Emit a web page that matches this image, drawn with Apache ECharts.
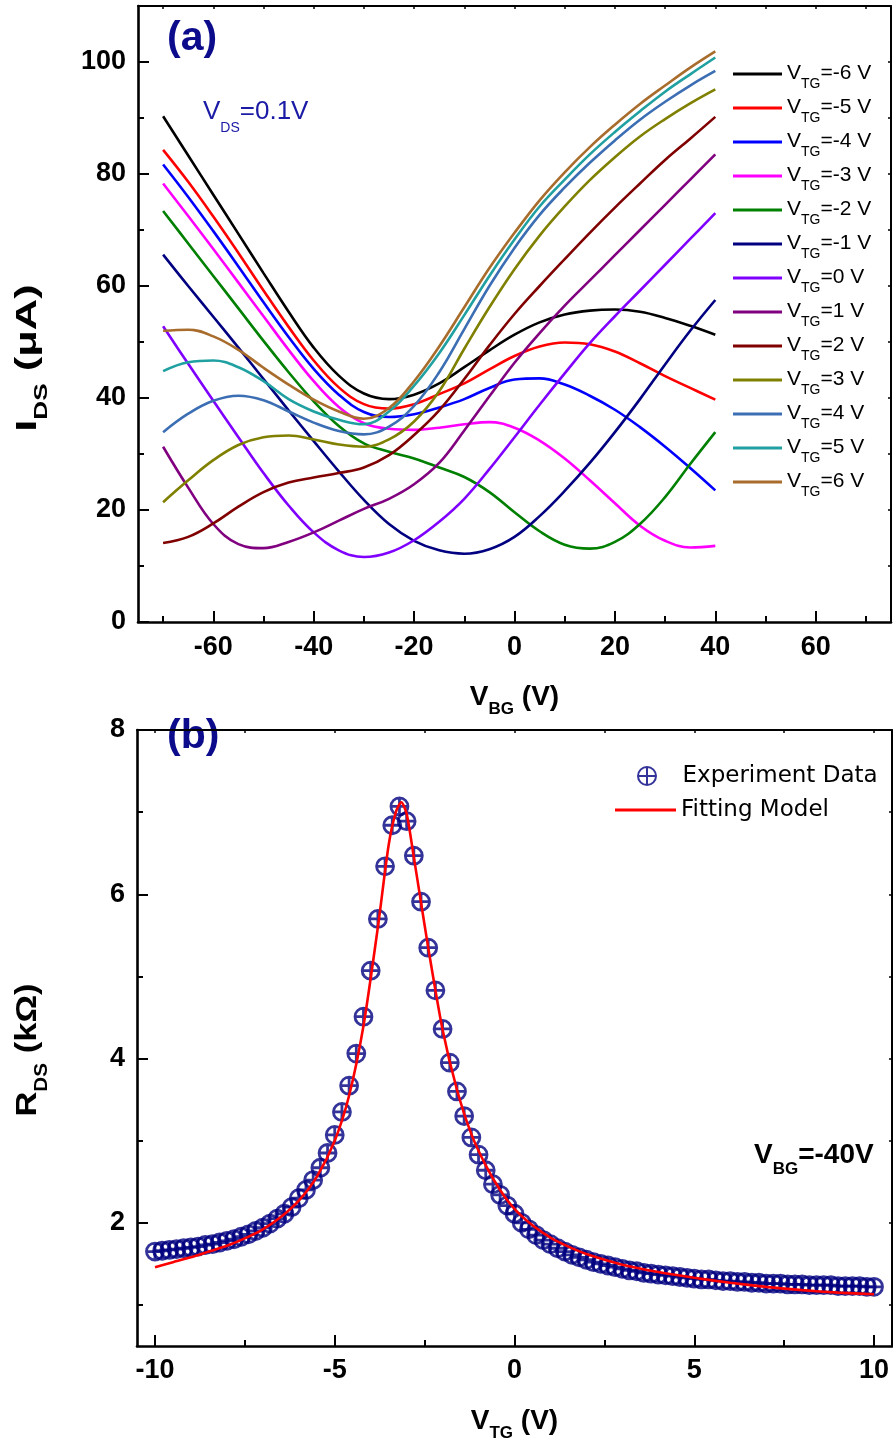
<!DOCTYPE html>
<html><head><meta charset="utf-8">
<script src="https://cdn.jsdelivr.net/npm/echarts@6/dist/echarts.min.js"></script>
<style>html,body{margin:0;padding:0;background:#fff}#c{width:893px;height:1449px}</style>
</head><body><div id="c"></div>
<script>
// ---------- Panel (a) data ----------
const vbg = [-70,-65,-60,-55,-50,-45,-40,-35,-30,-25,-20,-15,-10,-5,0,5,10,15,20,25,30,35,40];
const tgLabels = ['-6','-5','-4','-3','-2','-1','0','1','2','3','4','5','6'];
const tgColors = ['#000000','#ff0000','#0000ff','#ff00ff','#008000','#000080','#8000ff','#800080','#800000','#808000','#3c6eb4','#20a0a0','#a86c2c'];
const idsTGm6 = [90.3,83.3,76.3,69.3,62.3,55.4,49.0,44.0,40.8,39.8,40.6,42.6,45.5,48.5,51.3,53.5,54.9,55.6,55.8,55.4,54.3,52.9,51.3];
const idsTGm5 = [84.3,78.6,72.4,65.9,59.2,52.7,46.7,41.9,38.9,38.1,38.9,40.7,42.6,45.1,47.5,49.2,49.9,49.6,48.3,46.2,43.9,41.8,39.7];
const idsTGm4 = [81.7,75.9,69.8,63.5,57.1,50.9,45.2,40.6,37.5,36.6,37.1,38.3,39.8,41.8,43.3,43.5,42.4,40.4,37.9,34.8,31.3,27.5,23.5];
const idsTGm3 = [78.3,72.5,66.6,60.6,54.6,48.6,43.0,38.4,35.5,34.5,34.3,34.7,35.3,35.7,34.7,32.4,29.2,25.3,21.2,17.2,14.5,13.3,13.6];
const idsTGm2 = [73.4,67.6,61.8,56.0,50.2,44.6,39.4,35.0,31.9,30.4,29.2,27.6,25.9,23.2,19.6,16.2,13.8,13.1,14.3,17.5,22.3,28.2,33.9];
const idsTGm1 = [65.6,60.0,54.5,49.0,43.4,37.8,32.3,26.9,21.8,17.5,14.5,12.8,12.2,13.0,15.2,18.9,23.4,28.4,33.9,39.8,46.0,52.0,57.5];
const idsTG0  = [52.8,46.1,39.5,33.0,26.6,20.8,16.0,12.8,11.6,12.4,14.6,17.9,22.0,27.3,33.0,38.8,44.4,49.8,54.6,59.2,63.8,68.4,73.0];
const idsTG1  = [31.3,24.0,17.5,13.9,13.2,14.3,16.0,18.1,20.2,22.0,24.6,28.4,34.2,40.3,46.3,51.6,56.5,61.0,65.5,70.0,74.5,79.0,83.5];
const idsTG2  = [14.1,15.2,17.6,20.6,23.2,24.9,25.8,26.6,27.6,29.8,33.4,37.8,43.4,49.4,55.0,60.0,64.8,69.5,74.0,78.3,82.5,86.3,90.2];
const idsTG3  = [21.4,25.3,28.9,31.6,33.0,33.3,32.6,31.7,31.3,32.6,35.8,41.2,48.8,56.2,63.0,69.0,74.2,78.9,83.0,86.7,89.8,92.6,95.1];
const idsTG4  = [33.9,37.2,39.5,40.4,39.6,37.6,35.6,34.1,33.5,34.9,38.6,44.6,52.3,60.0,66.8,72.7,77.6,82.0,86.0,89.7,92.9,95.8,98.4];
const idsTG5  = [44.8,46.4,46.7,45.5,43.0,39.8,37.6,36.1,35.3,37.6,42.2,48.0,54.8,61.8,68.3,74.2,79.0,83.5,87.5,91.2,94.7,97.8,100.8];
const idsTG6  = [52.0,52.2,51.0,48.6,45.4,42.4,39.7,37.6,36.3,38.2,43.0,49.2,56.2,63.2,69.5,75.3,80.3,84.8,88.8,92.5,95.8,99.0,101.9];
const idsCurves = [idsTGm6,idsTGm5,idsTGm4,idsTGm3,idsTGm2,idsTGm1,idsTG0,idsTG1,idsTG2,idsTG3,idsTG4,idsTG5,idsTG6];
const xTickLabelsA = [-60,-40,-20,0,20,40,60];
const xMinorTicksA = [-70,-50,-30,-10,10,30,50,70];
const yTickLabelsA = [0,20,40,60,80,100];
const yMinorTicksA = [10,30,50,70,90];

// ---------- Panel (b) data ----------
const vtg = [-10.0,-9.8,-9.6,-9.4,-9.2,-9.0,-8.8,-8.6,-8.4,-8.2,-8.0,-7.8,-7.6,-7.4,-7.2,-7.0,-6.8,-6.6,-6.4,-6.2,
  -6.0,-5.8,-5.6,-5.4,-5.2,-5.0,-4.8,-4.6,-4.4,-4.2,-4.0,-3.8,-3.6,-3.4,-3.2,-3.0,-2.8,-2.6,-2.4,-2.2,
  -2.0,-1.8,-1.6,-1.4,-1.2,-1.0,-0.8,-0.6,-0.4,-0.2,0.0,0.2,0.4,0.6,0.8,1.0,1.2,1.4,1.6,1.8,
  2.0,2.2,2.4,2.6,2.8,3.0,3.2,3.4,3.6,3.8,4.0,4.2,4.4,4.6,4.8,5.0,5.2,5.4,5.6,5.8,
  6.0,6.2,6.4,6.6,6.8,7.0,7.2,7.4,7.6,7.8,8.0,8.2,8.4,8.6,8.8,9.0,9.2,9.4,9.6,9.8,10.0];
const rds = [1.65,1.66,1.67,1.68,1.69,1.70,1.71,1.73,1.74,1.76,1.78,1.80,1.83,1.86,1.90,1.94,1.99,2.05,2.11,2.19,
  2.30,2.40,2.52,2.67,2.85,3.07,3.35,3.67,4.06,4.51,5.07,5.70,6.34,6.84,7.07,6.89,6.47,5.91,5.35,4.83,
  4.36,3.95,3.60,3.30,3.04,2.83,2.64,2.47,2.34,2.21,2.11,2.00,1.92,1.85,1.79,1.74,1.69,1.65,1.61,1.58,
  1.55,1.52,1.50,1.48,1.46,1.44,1.42,1.41,1.39,1.38,1.37,1.36,1.35,1.34,1.33,1.32,1.31,1.31,1.30,1.29,
  1.29,1.28,1.28,1.27,1.27,1.26,1.26,1.26,1.25,1.25,1.25,1.24,1.24,1.24,1.24,1.23,1.23,1.23,1.23,1.22,1.22];
const fitV = [-10,-9.5,-9,-8.5,-8,-7.5,-7,-6.5,-6,-5.5,-5,-4.6,-4.2,-3.8,-3.5,-3.3,-3.15,-3.0,-2.8,-2.6,-2.4,-2.0,-1.6,-1.2,-0.8,-0.4,0,0.5,1,1.5,2,3,4,5,6,7,8,9,10];
const fitR = [1.46,1.52,1.58,1.65,1.72,1.81,1.92,2.07,2.27,2.56,3.00,3.55,4.40,5.60,6.60,7.00,7.12,6.98,6.45,5.90,5.35,4.35,3.62,3.08,2.70,2.40,2.17,1.97,1.82,1.71,1.62,1.49,1.40,1.33,1.27,1.22,1.18,1.15,1.13];
const xTickLabelsB = [-10,-5,0,5,10];
const xMinorTicksB = [-7.5,-2.5,2.5,7.5];
const yTickLabelsB = [2,4,6,8];
const yMinorTicksB = [1,3,5,7];

// ---------- styling / layout ----------
const FONT = '"Liberation Sans", Arial, Helvetica, sans-serif';
const LEGFONT = '"DejaVu Sans", sans-serif';
const BLK = '#000';
const chart = echarts.init(document.getElementById('c'), null, {renderer:'canvas'});

function allTicks(a, b, s){ const r=[]; for(let v=a; v<=b+1e-9; v+=s) r.push(+v.toFixed(4)); return r; }

function xAxesFor(grid, min, max, labels, minors, frameTicks, nameRich, nameGap, labelMargin){
  return [
    {type:'value', gridIndex:grid, position:'bottom', min, max,
      axisLine:{show:true, onZero:false, lineStyle:{color:BLK, width:2.6}},
      axisTick:{show:true, inside:true, length:11, customValues:labels, lineStyle:{color:BLK, width:2}},
      axisLabel:{show:true, customValues:labels, margin:labelMargin, color:BLK, fontSize:27, fontWeight:'bold', fontFamily:FONT},
      splitLine:{show:false},
      name:nameRich.text, nameLocation:'middle', nameGap,
      nameTextStyle:{color:BLK, fontFamily:FONT, fontWeight:'bold', rich:nameRich.rich}},
    {type:'value', gridIndex:grid, position:'bottom', min, max,
      axisLine:{show:false, onZero:false}, axisLabel:{show:false}, splitLine:{show:false},
      axisTick:{show:true, inside:true, length:6, customValues:minors, lineStyle:{color:BLK, width:2}}},
    {type:'value', gridIndex:grid, position:'top', min, max,
      axisLine:{show:true, onZero:false, lineStyle:{color:BLK, width:2}}, axisLabel:{show:false}, splitLine:{show:false},
      axisTick:{show:true, inside:true, length:3, customValues:frameTicks, lineStyle:{color:BLK, width:1.5}}}
  ];
}
function yAxesFor(grid, min, max, labels, minors, frameTicks){
  return [
    {type:'value', gridIndex:grid, position:'left', min, max,
      axisLine:{show:true, onZero:false, lineStyle:{color:BLK, width:2.6}},
      axisTick:{show:true, inside:true, length:11, customValues:labels, lineStyle:{color:BLK, width:2}},
      axisLabel:{show:true, customValues:labels, margin:12, color:BLK, fontSize:27, fontWeight:'bold', fontFamily:FONT},
      splitLine:{show:false}},
    {type:'value', gridIndex:grid, position:'left', min, max,
      axisLine:{show:false, onZero:false}, axisLabel:{show:false}, splitLine:{show:false},
      axisTick:{show:true, inside:true, length:6, customValues:minors, lineStyle:{color:BLK, width:2}}},
    {type:'value', gridIndex:grid, position:'right', min, max,
      axisLine:{show:true, onZero:false, lineStyle:{color:BLK, width:2}}, axisLabel:{show:false}, splitLine:{show:false},
      axisTick:{show:true, inside:true, length:3, customValues:frameTicks, lineStyle:{color:BLK, width:1.5}}}
  ];
}
const titleRich = {
  m:{fontSize:28, fontWeight:'bold', fontFamily:FONT, color:BLK, lineHeight:30, verticalAlign:'top', padding:[0,0,0,0]},
  s:{fontSize:17, fontWeight:'bold', fontFamily:FONT, color:BLK, lineHeight:30, verticalAlign:'top', padding:[18,0,0,0]}
};
const nameVBG = {text:'{m|V}{s|BG}{m| (V)}', rich:titleRich};
const nameVTG = {text:'{m|V}{s|TG}{m| (V)}', rich:titleRich};

const xAxes = [].concat(
  xAxesFor(0, -75, 75, xTickLabelsA, xMinorTicksA, allTicks(-70,70,10), nameVBG, 61, 12),
  xAxesFor(1, -10.5, 10.5, xTickLabelsB, xMinorTicksB, allTicks(-10,10,2.5), nameVTG, 61, 11)
);
const yAxes = [].concat(
  yAxesFor(0, 0, 110, yTickLabelsA, yMinorTicksA, allTicks(10,100,10)),
  yAxesFor(1, 0.5, 8, yTickLabelsB, yMinorTicksB, allTicks(1,7,1))
);

const seriesA = tgLabels.map((lab, i) => ({
  name: 'VTG=' + lab + ' V', type:'line', xAxisIndex:0, yAxisIndex:0,
  data: vbg.map((x, j) => [x, idsCurves[i][j]]),
  symbol:'none', showSymbol:false, smooth:0.4,
  lineStyle:{color:tgColors[i], width:2.6}, itemStyle:{color:tgColors[i]}
}));

const crossCircle = 'path://M10,0A10,10,0,1,1,10,20A10,10,0,1,1,10,0ZM0,10L20,10M10,0L10,20';
const seriesB = [
  {name:'Experiment Data', type:'scatter', xAxisIndex:3, yAxisIndex:3,
    data: vtg.map((x, j) => [x, rds[j]]),
    symbol:crossCircle, symbolSize:17,
    itemStyle:{color:'rgba(0,0,0,0)', borderColor:'#00007f', borderWidth:2.8}},
  {name:'Fitting Model', type:'line', xAxisIndex:3, yAxisIndex:3,
    data: fitV.map((x, j) => [x, fitR[j]]),
    symbol:'none', showSymbol:false, smooth:0.25, z:5,
    lineStyle:{color:'#ff0000', width:2.6}, itemStyle:{color:'#ff0000'}}
];

const subRichNative = (mainSize, subSize, padSub, weight, color) => ({
  m:{fontSize:mainSize, fontWeight:weight, fontFamily:FONT, fill:color, lineHeight:mainSize, verticalAlign:'top'},
  s:{fontSize:subSize, fontWeight:weight, fontFamily:FONT, fill:color, lineHeight:mainSize, verticalAlign:'top', padding:[padSub,0,0,0]}
});

const option = {
  animation:false,
  backgroundColor:'#fff',
  grid:[
    {left:138, top:6, width:753, height:616, containLabel:false},
    {left:137, top:730, width:755, height:616, containLabel:false}
  ],
  xAxis: xAxes,
  yAxis: yAxes,
  legend:[
    {orient:'vertical', left:733, top:56, padding:0, itemGap:-1, itemWidth:49, itemHeight:3, itemTextGap:6, icon:'rect',
      data: seriesA.map(s => s.name), selectedMode:false,
      formatter: n => '{v|V}{s|TG}{v|' + n.slice(3) + '}',
      textStyle:{color:BLK, fontFamily:FONT, rich:{
        v:{fontSize:21, fontFamily:FONT, color:BLK, lineHeight:36, verticalAlign:'top', padding:[6.5,0,0,0]},
        s:{fontSize:14, fontFamily:FONT, color:BLK, lineHeight:36, verticalAlign:'top', padding:[21,0,0,0]}
      }}},
    {orient:'vertical', left:637, top:764, padding:0, itemGap:0, itemWidth:61, itemHeight:18, itemTextGap:7,
      data:['Experiment Data'], selectedMode:false,
      textStyle:{color:BLK, fontFamily:LEGFONT, fontSize:23, lineHeight:24}},
    {orient:'vertical', left:615, top:798, padding:0, itemGap:0, itemWidth:61, itemHeight:3, itemTextGap:7, icon:'rect',
      data:['Fitting Model'], selectedMode:false,
      textStyle:{color:BLK, fontFamily:LEGFONT, fontSize:23, lineHeight:24}}
  ],
  graphic:[
    {type:'text', x:167, y:39, style:{legacy:false, text:'(a)', fill:'#0b0b8c', font:'bold 41px ' + FONT, align:'left', verticalAlign:'middle'}},
    {type:'text', x:167, y:737, style:{legacy:false, text:'(b)', fill:'#0b0b8c', font:'bold 41px ' + FONT, align:'left', verticalAlign:'middle'}},
    {type:'text', x:203, y:99, style:{legacy:false, text:'{m|V}{s|DS}{m|=0.1V}', fill:'#1a1aa6', font:'26px ' + FONT, align:'left', verticalAlign:'top',
      rich:subRichNative(26, 14, 22, 'normal', '#1a1aa6')}},
    {type:'text', x:754, y:1141, style:{legacy:false, text:'{m|V}{s|BG}{m|=-40V}', fill:BLK, font:'bold 28px ' + FONT, align:'left', verticalAlign:'top',
      rich:subRichNative(28, 17, 20, 'bold', BLK)}},
    // rotated y-axis titles
    {type:'text', x:28, y:358, rotation:Math.PI/2, scaleX:1.45, scaleY:1,
      style:{legacy:false, text:'{m|I}{s|DS}{m| (μA)}', fill:BLK, font:'bold 30px ' + FONT, align:'center', verticalAlign:'middle',
      rich:subRichNative(30, 18, 20, 'bold', BLK)}},
    {type:'text', x:28, y:1050, rotation:Math.PI/2, scaleX:1.15, scaleY:1,
      style:{legacy:false, text:'{m|R}{s|DS}{m| (kΩ)}', fill:BLK, font:'bold 30px ' + FONT, align:'center', verticalAlign:'middle',
      rich:subRichNative(30, 18, 20, 'bold', BLK)}}
  ],
  series: seriesA.concat(seriesB)
};
chart.setOption(option);
</script>
</body></html>
